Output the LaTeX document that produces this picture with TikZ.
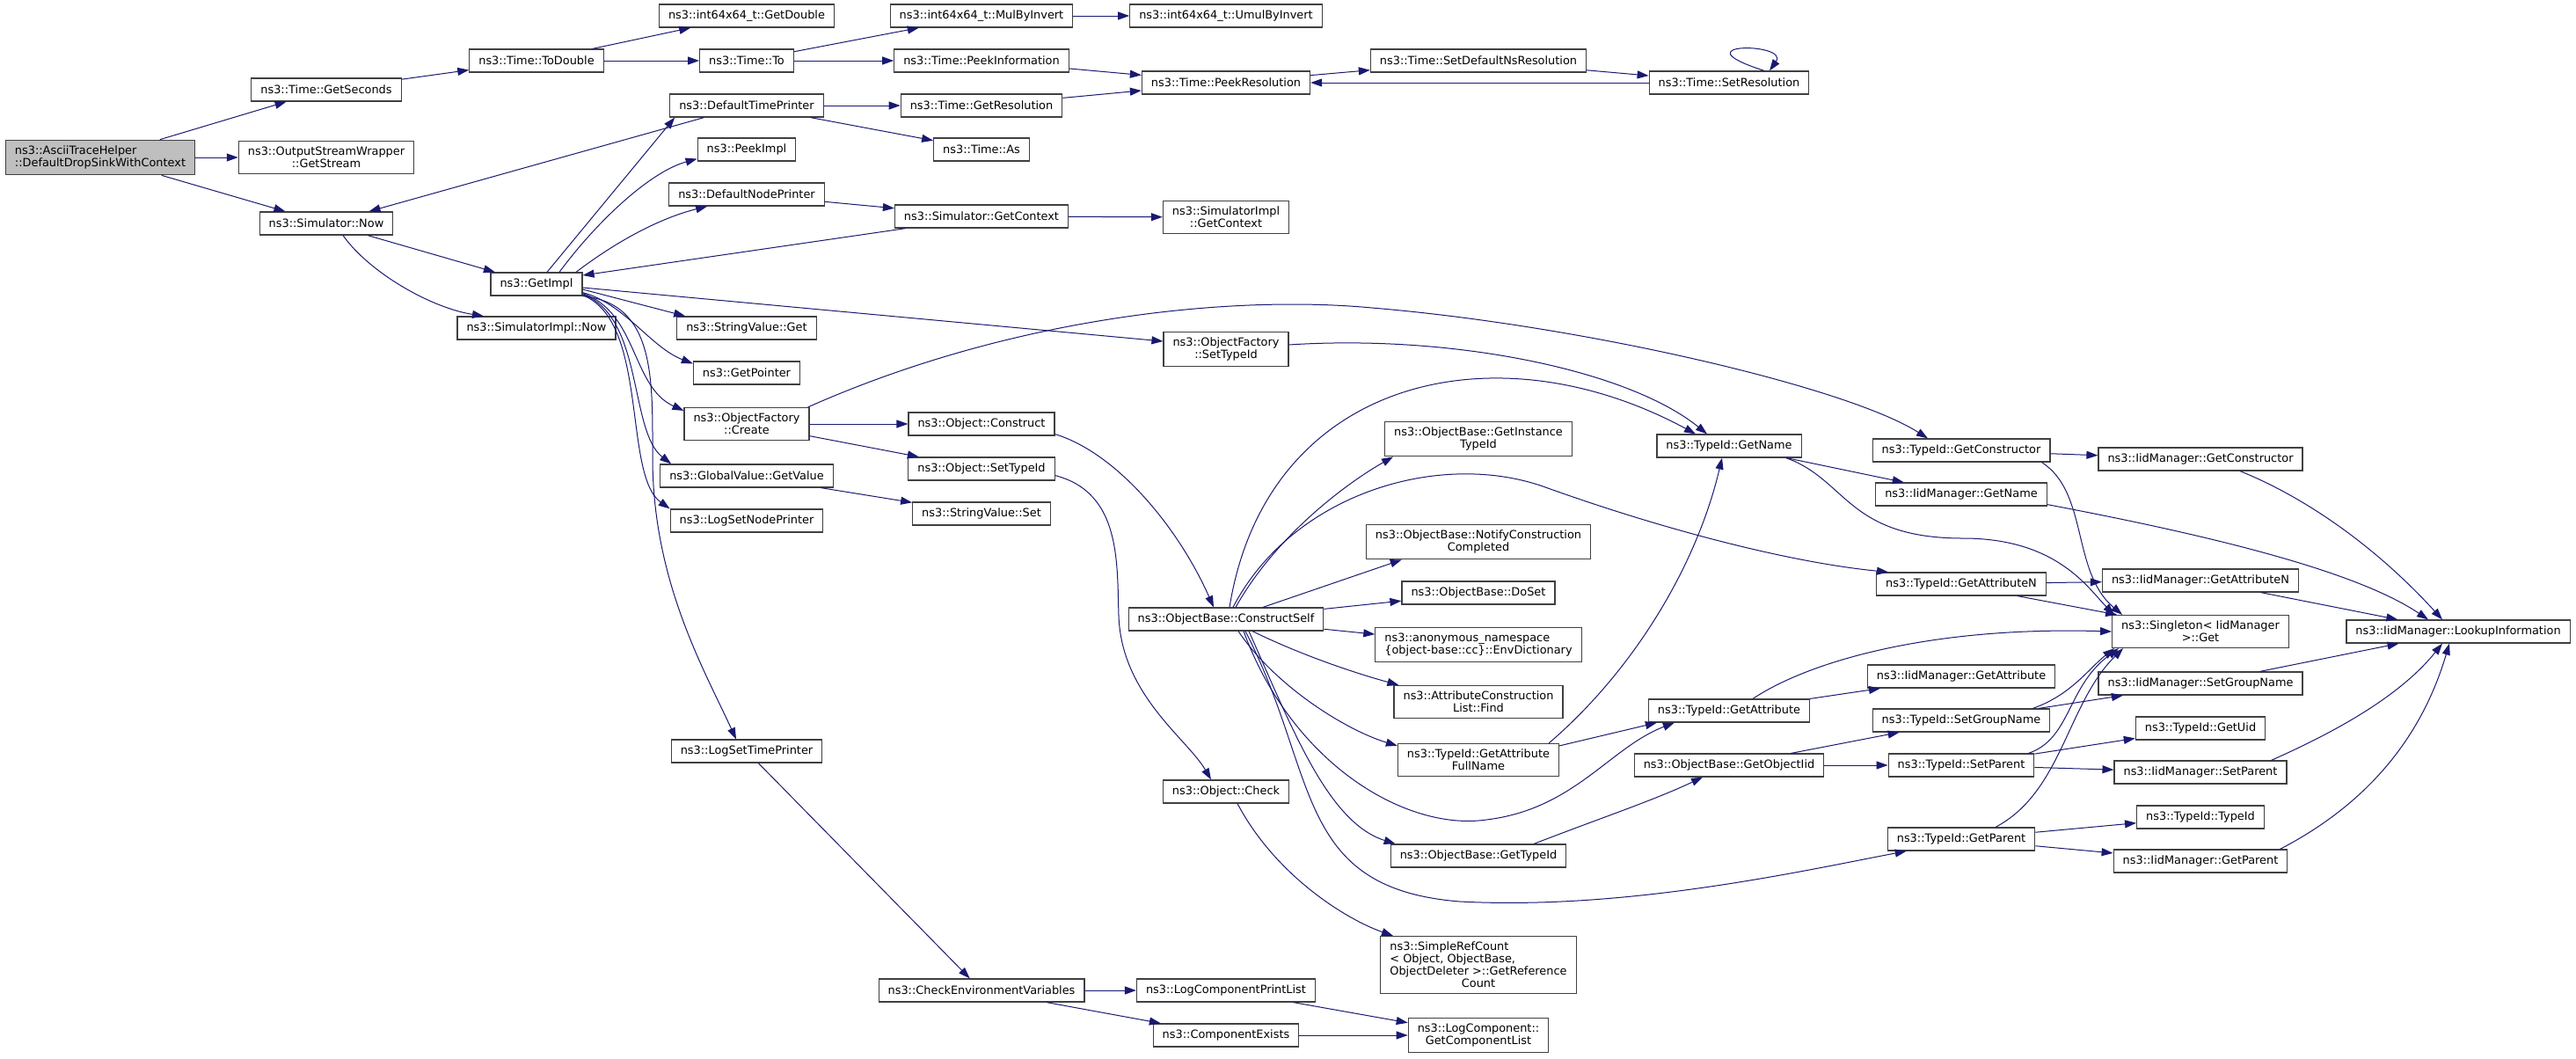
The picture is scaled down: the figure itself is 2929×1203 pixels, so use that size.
\documentclass[tikz,border=0pt]{standalone}
\usepackage{fontspec}
\setmainfont{DejaVu Sans}
\usepackage{tikz}
\usetikzlibrary{arrows.meta}
\definecolor{callblue}{HTML}{191970}
\definecolor{boxgrey}{HTML}{404040}
\newcommand\refwide{ObjectDeleter >::GetReference}
\begin{document}
\begin{tikzpicture}[x=1pt,y=-1pt,
fn/.style={rectangle,draw=boxgrey,line width=1.2pt,fill=white,
inner xsep=10.5pt,inner ysep=6.5pt,minimum height=26pt,align=center,
font=\fontsize{12.9}{14}\selectfont},
call/.style={draw=callblue,line width=1pt,
-{Triangle[length=13pt,width=9pt]}}]
\useasboundingbox (0,0) rectangle (2929,1203);
% column 0 to 2
\node[fn,fill=black!25,align=left] (ascii) at (114,179)
{ns3::AsciiTraceHelper\\::DefaultDropSinkWithContext};
\node[fn] (getseconds) at (371,102) {ns3::Time::GetSeconds};
\node[fn] (getstream) at (371,179) {ns3::OutputStreamWrapper\\::GetStream};
\node[fn] (simnow) at (371,254) {ns3::Simulator::Now};
\node[fn] (todouble) at (610,69) {ns3::Time::ToDouble};
\node[fn] (getimpl) at (610,323) {ns3::GetImpl};
\node[fn] (simimplnow) at (610,373) {ns3::SimulatorImpl::Now};
% column 3
\node[fn] (getdouble) at (849,18) {ns3::int64x64\_t::GetDouble};
\node[fn] (timeto) at (849,69) {ns3::Time::To};
\node[fn] (dtp) at (849,120) {ns3::DefaultTimePrinter};
\node[fn] (peekimpl) at (849,170) {ns3::PeekImpl};
\node[fn] (dnp) at (849,221) {ns3::DefaultNodePrinter};
\node[fn] (svget) at (849,373) {ns3::StringValue::Get};
\node[fn] (getpointer) at (849,424) {ns3::GetPointer};
\node[fn] (ofcreate) at (849,482) {ns3::ObjectFactory\\::Create};
\node[fn] (gvget) at (849,541) {ns3::GlobalValue::GetValue};
\node[fn] (logsetnode) at (849,592) {ns3::LogSetNodePrinter};
\node[fn] (logsettime) at (849,854) {ns3::LogSetTimePrinter};
% column 4
\node[fn] (mulbyinv) at (1116,18) {ns3::int64x64\_t::MulByInvert};
\node[fn] (peekinfo) at (1116,69) {ns3::Time::PeekInformation};
\node[fn] (getres) at (1116,120) {ns3::Time::GetResolution};
\node[fn] (timeas) at (1116,170) {ns3::Time::As};
\node[fn] (simgetctx) at (1116,246) {ns3::Simulator::GetContext};
\node[fn] (objconstruct) at (1116,482) {ns3::Object::Construct};
\node[fn] (objsettypeid) at (1116,533) {ns3::Object::SetTypeId};
\node[fn] (svset) at (1116,584) {ns3::StringValue::Set};
\node[fn] (checkenv) at (1116,1126) {ns3::CheckEnvironmentVariables};
% column 5
\node[fn] (umul) at (1394,18) {ns3::int64x64\_t::UmulByInvert};
\node[fn] (peekres) at (1394,94) {ns3::Time::PeekResolution};
\node[fn] (simimplctx) at (1394,247) {ns3::SimulatorImpl\\::GetContext};
\node[fn] (ofsettypeid) at (1394,397) {ns3::ObjectFactory\\::SetTypeId};
\node[fn] (constructself) at (1394,704) {ns3::ObjectBase::ConstructSelf};
\node[fn] (objcheck) at (1394,900) {ns3::Object::Check};
\node[fn] (printlist) at (1394,1126) {ns3::LogComponentPrintList};
\node[fn] (compexists) at (1394,1177) {ns3::ComponentExists};
% column 6
\node[fn] (setdefns) at (1681,69) {ns3::Time::SetDefaultNsResolution};
\node[fn] (instancetypeid) at (1681,499) {ns3::ObjectBase::GetInstance\\TypeId};
\node[fn] (notify) at (1681,616) {ns3::ObjectBase::NotifyConstruction\\Completed};
\node[fn] (doset) at (1681,674) {ns3::ObjectBase::DoSet};
\node[fn,align=left] (envdict) at (1681,733)
{ns3::anonymous\_namespace\\\{object-base::cc\}::EnvDictionary};
\node[fn] (attrfind) at (1681,798) {ns3::AttributeConstruction\\List::Find};
\node[fn] (fullname) at (1681,864) {ns3::TypeId::GetAttribute\\FullName};
\node[fn] (obgettypeid) at (1681,973) {ns3::ObjectBase::GetTypeId};
\node[fn] (simpleref) at (1681,1097)
{\rlap{ns3::SimpleRefCount}\hphantom{\refwide}\\
\rlap{< Object, ObjectBase,}\hphantom{\refwide}\\ \refwide\\Count};
\node[fn] (complist) at (1681,1177) {ns3::LogComponent::\\GetComponentList};
% column 7
\node[fn] (setres) at (1966,94) {ns3::Time::SetResolution};
\node[fn] (tgetname) at (1966,507) {ns3::TypeId::GetName};
\node[fn] (tgetattr) at (1966,808) {ns3::TypeId::GetAttribute};
\node[fn] (getobjiid) at (1966,870) {ns3::ObjectBase::GetObjectIid};
% column 8
\node[fn] (tgetctor) at (2230,512) {ns3::TypeId::GetConstructor};
\node[fn] (igetname) at (2230,562) {ns3::IidManager::GetName};
\node[fn] (tgetattrn) at (2230,664) {ns3::TypeId::GetAttributeN};
\node[fn] (igetattr) at (2230,769) {ns3::IidManager::GetAttribute};
\node[fn] (tsetgroup) at (2230,819) {ns3::TypeId::SetGroupName};
\node[fn] (tsetparent) at (2230,870) {ns3::TypeId::SetParent};
\node[fn] (tgetparent) at (2230,954) {ns3::TypeId::GetParent};
% column 9 and 10
\node[fn] (igetctor) at (2502,522) {ns3::IidManager::GetConstructor};
\node[fn] (igetattrn) at (2502,660) {ns3::IidManager::GetAttributeN};
\node[fn] (singleton) at (2502,718) {ns3::Singleton< IidManager\\ >::Get};
\node[fn] (isetgroup) at (2502,777) {ns3::IidManager::SetGroupName};
\node[fn] (tgetuid) at (2502,828) {ns3::TypeId::GetUid};
\node[fn] (isetparent) at (2502,878) {ns3::IidManager::SetParent};
\node[fn] (ttypeid) at (2502,929) {ns3::TypeId::TypeId};
\node[fn] (igetparent) at (2502,979) {ns3::IidManager::GetParent};
\node[fn] (lookup) at (2795,718) {ns3::IidManager::LookupInformation};
% straight calls
\foreach \a/\b in {ascii/getseconds,ascii/getstream,ascii/simnow,
getseconds/todouble,todouble/getdouble,todouble/timeto,timeto/mulbyinv,
timeto/peekinfo,mulbyinv/umul,peekinfo/peekres,getres/peekres,
peekres/setdefns,setdefns/setres,setres/peekres,dtp/getres,dtp/timeas,
dtp/simnow,simnow/getimpl,dnp/simgetctx,simgetctx/simimplctx,
ofcreate/objconstruct,ofcreate/objsettypeid,gvget/svset,
logsettime/checkenv,checkenv/printlist,checkenv/compexists,
printlist/complist,compexists/complist,constructself/doset,
constructself/envdict,tgetattr/igetattr,tgetname/igetname,
tgetctor/igetctor,tgetattrn/igetattrn,getobjiid/tsetgroup,
getobjiid/tsetparent,tsetgroup/isetgroup,tsetparent/tgetuid,
tsetparent/isetparent,tgetparent/ttypeid,tgetparent/igetparent,
igetattrn/lookup,isetgroup/lookup}
\draw[call] (\a) -- (\b);
% curved calls
\draw[call] ([xshift=40pt]setres.north) .. controls (1905,48) and (2035,48)
.. ([xshift=46pt]setres.north);
\draw[call] ([xshift=19pt]simnow.south) .. controls (420,310) and (490,350)
.. ([xshift=-60pt]simimplnow.north);
\draw[call] ([xshift=12pt]getimpl.north) -- ([xshift=6pt]dtp.south west);
\draw[call] ([xshift=26pt]getimpl.north) .. controls (680,250) and (740,195)
.. ([yshift=3pt]peekimpl.south west);
\draw[call] ([xshift=45pt]getimpl.north) .. controls (700,275) and (750,248)
.. ([xshift=44pt]dnp.south west);
\draw[call] ([xshift=13pt]simgetctx.south west) -- ([yshift=10pt]getimpl.east);
\draw[call] ([yshift=-4pt]getimpl.east) -- ([yshift=9pt]ofsettypeid.west);
\draw[call] ([yshift=-6pt]getimpl.east) -- ([xshift=10pt]svget.north west);
\draw[call] ([yshift=4pt]getimpl.south east) .. controls (710,345) and (740,395)
.. ([yshift=-3pt]getpointer.north west);
\draw[call] ([yshift=3pt]getimpl.south east) .. controls (725,355) and (718,440)
.. ([yshift=-4pt]ofcreate.north west);
\draw[call] ([yshift=2pt]getimpl.south east) .. controls (732,360) and (715,490)
.. ([xshift=13pt]gvget.north west);
\draw[call] ([yshift=1pt]getimpl.south east) .. controls (738,365) and (708,540)
.. (logsetnode.north west);
\draw[call] (getimpl.south east) .. controls (745,345) and (742,430) .. (742,520)
.. controls (742,660) and (800,760) .. ([xshift=-12pt]logsettime.north);
\draw[call] ([yshift=5pt]ofsettypeid.east) .. controls (1650,380) and (1850,420)
.. ([xshift=-25pt]tgetname.north);
\draw[call] ([xshift=-2pt]ofcreate.north east) .. controls (1150,360) and (1400,335)
.. (1560,350) .. controls (1800,370) and (2100,440) .. ([xshift=-38pt]tgetctor.north);
\draw[call] ([yshift=2pt]objconstruct.south east) .. controls (1270,515) and (1340,600)
.. ([xshift=-14pt]constructself.north);
\draw[call] ([yshift=6pt]objsettypeid.south east) .. controls (1275,560) and (1270,640)
.. (1272,700) .. controls (1275,790) and (1350,840) .. ([xshift=-17pt]objcheck.north);
\draw[call] ([xshift=13pt]objcheck.south) .. controls (1450,995) and (1530,1045)
.. ([xshift=-97pt]simpleref.north);
\draw[call] ([xshift=4pt]constructself.north) .. controls (1440,430) and (1700,370)
.. ([xshift=-38pt]tgetname.north);
\draw[call] ([xshift=8pt]constructself.north) .. controls (1470,560) and (1640,510)
.. (1760,555) .. controls (1900,605) and (2040,640) .. ([xshift=14pt]tgetattrn.north west);
\draw[call] ([xshift=11pt]constructself.north) .. controls (1450,610) and (1530,550)
.. ([xshift=10pt]instancetypeid.south west);
\draw[call] ([xshift=42pt]constructself.north) -- ([xshift=41pt]notify.south west);
\draw[call] ([xshift=30pt]constructself.south) .. controls (1480,745) and (1540,765)
.. ([xshift=6pt]attrfind.north west);
\draw[call] ([xshift=14pt]constructself.south) .. controls (1450,780) and (1530,830)
.. ([yshift=-3pt]fullname.north west);
\draw[call] ([xshift=20pt]constructself.south) .. controls (1470,870) and (1600,945)
.. (1690,932) .. controls (1790,920) and (1830,850) .. ([xshift=30pt]tgetattr.south west);
\draw[call] ([xshift=26pt]constructself.south) .. controls (1470,830) and (1510,935)
.. ([xshift=6pt]obgettypeid.north west);
\draw[call] ([xshift=22pt]constructself.south) .. controls (1500,880) and (1470,1010)
.. (1660,1025) .. controls (1850,1035) and (2050,990) .. ([xshift=22pt]tgetparent.south west);
\draw[call] ([xshift=-12pt]fullname.north east) .. controls (1860,760) and (1930,640)
.. ([xshift=-8pt]tgetname.south);
\draw[call] ([yshift=-3pt]fullname.north east) -- ([xshift=10pt]tgetattr.south west);
\draw[call] ([xshift=27pt]tgetattr.north) .. controls (2060,750) and (2200,712)
.. (singleton.west);
\draw[call] ([xshift=-18pt]tgetname.south east) .. controls (2100,545) and (2100,612)
.. (2232,612) .. controls (2340,612) and (2375,670) .. ([xshift=3pt]singleton.north west);
\draw[call] ([xshift=-10pt]tgetctor.south east) .. controls (2375,560) and (2355,650)
.. ([xshift=12pt]singleton.north west);
\draw[call] ([xshift=-33pt]tgetattrn.south east) -- ([xshift=6pt]singleton.north west);
\draw[call] ([xshift=63pt]obgettypeid.north) .. controls (1820,930) and (1880,910)
.. ([xshift=-30pt]getobjiid.south);
\draw[call] ([xshift=-20pt]tsetgroup.north east) .. controls (2355,790) and (2375,760)
.. ([xshift=3pt]singleton.south west);
\draw[call] ([xshift=-7pt]tsetparent.north east) .. controls (2355,840) and (2350,780)
.. ([xshift=8pt]singleton.south west);
\draw[call] ([xshift=39pt]tgetparent.north) .. controls (2345,900) and (2350,800)
.. ([xshift=13pt]singleton.south west);
\draw[call] ([xshift=45pt]igetctor.south) .. controls (2620,565) and (2700,620)
.. ([xshift=-18pt]lookup.north);
\draw[call] ([yshift=2pt]igetname.south east) .. controls (2520,610) and (2680,650)
.. ([xshift=-34pt]lookup.north);
\draw[call] ([xshift=-18pt]isetparent.north east) .. controls (2660,830) and (2730,790)
.. ([xshift=-18pt]lookup.south);
\draw[call] ([xshift=-9pt]igetparent.north east) .. controls (2680,920) and (2750,850)
.. ([xshift=-10pt]lookup.south);
\end{tikzpicture}
\end{document}
